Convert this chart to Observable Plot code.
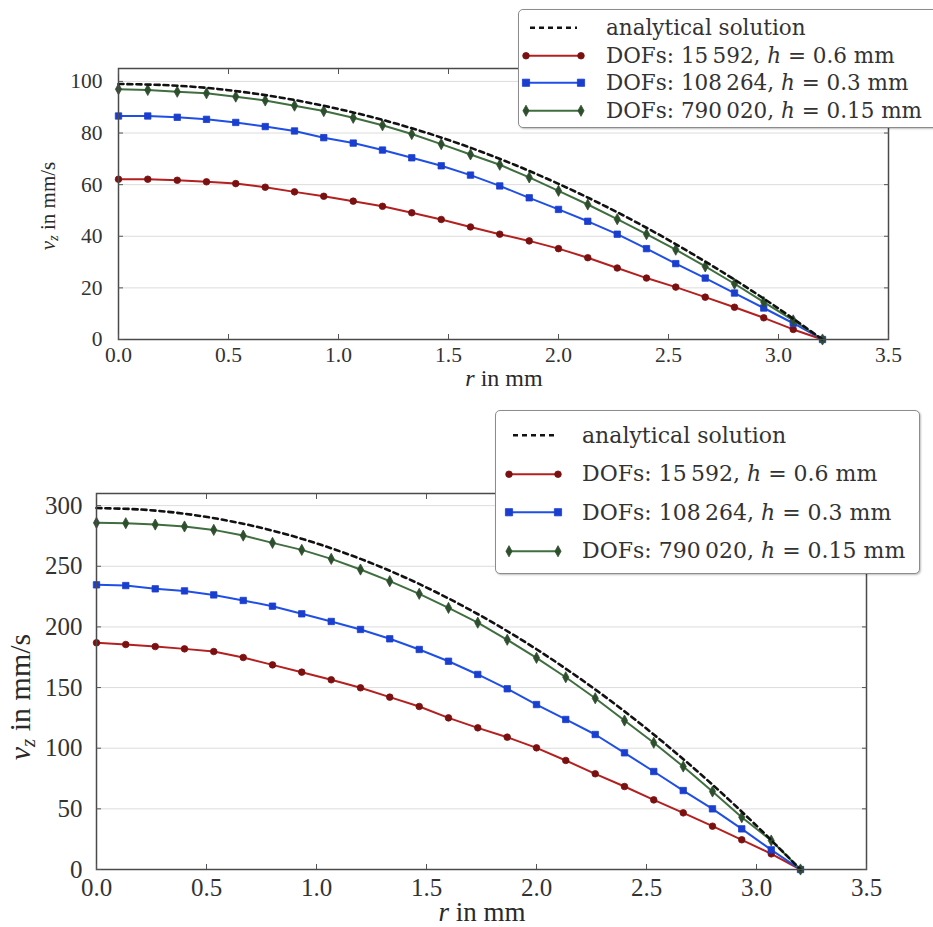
<!DOCTYPE html>
<html><head><meta charset="utf-8">
<script src="https://cdn.jsdelivr.net/npm/d3@7"></script>
<script src="https://cdn.jsdelivr.net/npm/@observablehq/plot@0.6"></script>
<style>
html,body{margin:0;padding:0;background:#fff;}
#wrap{position:relative;width:933px;height:927px;overflow:hidden;font-family:"Liberation Serif","DejaVu Serif",serif;color:#2a2a2a;}
.panel{position:absolute;left:0;}
.lab{position:absolute;white-space:nowrap;transform:translate(-50%,-50%);}
.ylab{position:absolute;white-space:nowrap;transform:translate(-50%,-50%) rotate(-90deg);}
.legend{position:absolute;background:#fff;border:1.5px solid #8c8c8c;border-radius:5px;box-shadow:1px 1px 2px rgba(0,0,0,0.25);white-space:nowrap;box-sizing:border-box;font-family:"DejaVu Serif",serif;color:#333;}
.row{display:flex;align-items:center;}
.row svg{flex:none;}
sub{font-size:0.7em;vertical-align:-0.25em;}
</style>
</head><body>
<div id="wrap"></div>
<script>
// ---- data ----
const rGrid = [0, 0.133, 0.267, 0.4, 0.533, 0.667, 0.8, 0.933, 1.067, 1.2, 1.333, 1.467, 1.6,
  1.733, 1.867, 2.0, 2.133, 2.267, 2.4, 2.533, 2.667, 2.8, 2.933, 3.067, 3.2];
const rExact = [0, 0.2, 0.4, 0.6, 0.8, 1.0, 1.2, 1.4, 1.6, 1.8, 2.0, 2.2, 2.4, 2.6, 2.8, 3.0, 3.2];

// top panel (lower flow rate)
const topExact = [99, 98.6, 97.5, 95.5, 92.8, 89.3, 85.1, 80.1, 74.3, 67.7, 60.3, 52.2, 43.3, 33.6, 23.2, 12.0, 0];
const topH06 = [62.1, 62.1, 61.7, 61.1, 60.4, 59.0, 57.2, 55.5, 53.6, 51.6, 49.1, 46.5, 43.6,
  40.8, 38.2, 35.2, 31.7, 27.7, 23.8, 20.3, 16.4, 12.5, 8.4, 3.9, 0];
const topH03 = [86.6, 86.6, 86.1, 85.3, 84.1, 82.5, 80.8, 78.2, 76.1, 73.4, 70.4, 67.3, 63.7,
  59.5, 54.9, 50.4, 45.8, 40.8, 35.2, 29.4, 23.8, 18.0, 12.2, 6.3, 0];
const topH015 = [97.0, 96.7, 96.0, 95.4, 94.1, 92.6, 90.6, 88.5, 85.9, 83.0, 79.6, 75.7, 71.7,
  67.7, 62.8, 57.6, 52.3, 46.6, 40.8, 34.8, 28.3, 21.6, 14.5, 7.4, 0];

// bottom panel (higher flow rate)
const botExact = [298, 296.8, 293.3, 287.5, 279.4, 268.9, 256.1, 241.0, 223.5, 203.7, 181.6, 157.1, 130.4, 101.3, 69.9, 36.1, 0];
const botH06 = [186.9, 185.5, 183.8, 181.9, 179.7, 174.8, 168.7, 162.7, 156.4, 149.8, 142.1, 134.4, 125.0,
  116.8, 109.1, 100.3, 89.9, 78.9, 68.4, 57.4, 46.7, 35.7, 24.5, 12.9, 0];
const botH03 = [234.7, 234.1, 231.4, 229.7, 226.4, 221.8, 217.1, 210.8, 204.5, 197.9, 190.2, 181.4, 171.7,
  160.8, 149.0, 136.0, 123.7, 111.3, 96.2, 80.8, 65.1, 50.0, 33.5, 16.2, 0];
const botH015 = [285.8, 285.5, 284.4, 282.8, 280.0, 275.3, 269.3, 263.5, 256.1, 247.3, 237.7, 227.3, 215.7,
  203.5, 189.4, 174.5, 158.5, 141.2, 122.8, 104.5, 84.9, 64.3, 43.1, 23.9, 0];

const xTicks = [0, 0.5, 1.0, 1.5, 2.0, 2.5, 3.0, 3.5];
const topYTicks = [0, 20, 40, 60, 80, 100];
const botYTicks = [0, 50, 100, 150, 200, 250, 300];

const legendHTML = [
  "analytical solution",
  "DOFs: 15\u2009592, <i>h</i> = 0.6 mm",
  "DOFs: 108\u2009264, <i>h</i> = 0.3 mm",
  "DOFs: 790\u2009020, <i>h</i> = 0.15 mm"
];

// ---- styles ----
const serif = '"Liberation Serif", "DejaVu Serif", serif';
const lineCol = ["#111111", "#b3201f", "#1f4fe6", "#3f6e3f"];
const markCol = ["#111111", "#7a1010", "#1a3fcf", "#2e4f2e"];
const thinDiamond = {draw(ctx, size) {
  const h = Math.sqrt(size) * 0.75, w = h * 0.55;
  ctx.moveTo(0, -h); ctx.lineTo(w, 0); ctx.lineTo(0, h); ctx.lineTo(-w, 0); ctx.closePath();
}};
const symbols = [null, "circle", "square", thinDiamond];
const symR = [0, 3.3, 3.6, 4.2];

function makeRows(vals) { return rGrid.map((r, i) => ({r, v: vals[i]})); }

function panel(cfg) {
  const numeric = [cfg.h06, cfg.h03, cfg.h015];
  const marks = [
    Plot.gridY(cfg.yTicks, {stroke: "#dcdcdc", strokeOpacity: 1, strokeWidth: 1})
  ];
  numeric.forEach((vals, j) => {
    const rows = makeRows(vals);
    marks.push(Plot.line(rows, {x: "r", y: "v", stroke: lineCol[j + 1], strokeWidth: 2}));
    marks.push(Plot.dot(rows, {x: "r", y: "v", r: symR[j + 1], symbol: symbols[j + 1], fill: markCol[j + 1], stroke: markCol[j + 1], strokeWidth: 0.8}));
  });
  const ex = rExact.map((r, i) => ({r, v: cfg.exact[i]}));
  marks.push(Plot.line(ex, {x: "r", y: "v", stroke: lineCol[0], strokeWidth: 2.6, strokeDasharray: "5,4", curve: "catmull-rom"}));
  marks.push(Plot.frame({stroke: "#4a4a4a", strokeWidth: 1.5}));
  marks.push(Plot.axisX(xTicks, {tickSize: 0, tickPadding: cfg.xPad, tickFormat: d => d.toFixed(1), label: null, fontSize: cfg.tickFont, fontFamily: serif, fill: "#333"}));
  marks.push(Plot.axisX(xTicks, {anchor: "bottom", tickSize: -5, tickFormat: () => "", label: null, stroke: "#555"}));
  marks.push(Plot.axisX(xTicks, {anchor: "top", tickSize: -5, tickFormat: () => "", label: null, stroke: "#555"}));
  marks.push(Plot.axisY(cfg.yTicks, {tickSize: 0, tickPadding: cfg.yPad, label: null, fontSize: cfg.tickFont, fontFamily: serif, fill: "#333"}));
  marks.push(Plot.axisY(cfg.yTicks, {anchor: "left", tickSize: -5, tickFormat: () => "", label: null, stroke: "#555"}));
  marks.push(Plot.axisY(cfg.yTicks, {anchor: "right", tickSize: -5, tickFormat: () => "", label: null, stroke: "#555"}));
  return Plot.plot({
    width: 933, height: cfg.height,
    marginLeft: cfg.ml, marginRight: cfg.mr, marginTop: cfg.mt, marginBottom: cfg.mb,
    style: {fontFamily: serif, background: "transparent", overflow: "visible"},
    x: {domain: [0, 3.5]},
    y: {domain: cfg.yDomain},
    marks
  });
}

function legend(cfg) {
  const box = document.createElement("div");
  box.className = "legend";
  Object.assign(box.style, {left: cfg.left + "px", top: cfg.top + "px", width: cfg.width + "px", height: cfg.height + "px", paddingTop: cfg.padTop + "px", fontSize: cfg.font + "px"});
  legendHTML.forEach((html, j) => {
    const row = document.createElement("div");
    row.className = "row";
    row.style.height = cfg.rowH + "px";
    const w = cfg.sampleW;
    let svg = `<svg width="${cfg.sampleL + w + cfg.gap}" height="${cfg.rowH}">`;
    const y = cfg.rowH / 2, x0 = cfg.sampleL, x1 = cfg.sampleL + w;
    if (j === 0) {
      svg += `<line x1="${x0 + 4}" x2="${x1 - 4}" y1="${y}" y2="${y}" stroke="#111" stroke-width="2.6" stroke-dasharray="5,4"/>`;
    } else {
      svg += `<line x1="${x0}" x2="${x1}" y1="${y}" y2="${y}" stroke="${lineCol[j]}" stroke-width="2"/>`;
      const type = symbols[j] === "circle" ? d3.symbolCircle : symbols[j] === "square" ? d3.symbolSquare : thinDiamond;
      const size = symR[j] * symR[j] * (symbols[j] === "square" ? 4 : Math.PI);
      const sym = d3.symbol(type, size)();
      [x0, x1].forEach(x => { svg += `<path transform="translate(${x},${y})" d="${sym}" fill="${markCol[j]}" stroke="${markCol[j]}" stroke-width="0.8"/>`; });
    }
    svg += `</svg>`;
    row.innerHTML = svg + `<span>${html}</span>`;
    box.appendChild(row);
  });
  return box;
}

const wrap = document.getElementById("wrap");

// top panel
const topPlot = panel({height: 400, ml: 118, mr: 45, mt: 68, mb: 61, yDomain: [0, 105], yTicks: topYTicks,
  exact: topExact, h06: topH06, h03: topH03, h015: topH015, tickFont: 21.5, xPad: 7, yPad: 16});
topPlot.classList.add("panel"); topPlot.style.top = "0px";
wrap.appendChild(topPlot);

// bottom panel
const botPlot = panel({height: 527, ml: 96, mr: 67, mt: 93, mb: 58, yDomain: [0, 310], yTicks: botYTicks,
  exact: botExact, h06: botH06, h03: botH03, h015: botH015, tickFont: 25, xPad: 9, yPad: 14});
botPlot.classList.add("panel"); botPlot.style.top = "400px";
wrap.appendChild(botPlot);

// axis labels
function addLabel(cls, html, x, y, size) {
  const d = document.createElement("div");
  d.className = cls; d.innerHTML = html;
  Object.assign(d.style, {left: x + "px", top: y + "px", fontSize: size + "px"});
  wrap.appendChild(d);
}
addLabel("ylab", "<i>v</i><sub><i>z</i></sub> in mm/s", 49, 206, 21);
addLabel("lab", "<i>r</i> in mm", 504, 378, 24);
addLabel("ylab", "<i>v</i><sub><i>z</i></sub> in mm/s", 22, 697, 30);
addLabel("lab", "<i>r</i> in mm", 482, 912, 27);

// legends
wrap.appendChild(legend({left: 518, top: 9, width: 440, height: 119, padTop: 4, rowH: 27.5, font: 21.5, sampleL: 7, sampleW: 55, gap: 25}));
wrap.appendChild(legend({left: 495, top: 410, width: 425, height: 164, padTop: 5, rowH: 38.5, font: 22, sampleL: 13, sampleW: 49, gap: 24}));
</script>
</body></html>
